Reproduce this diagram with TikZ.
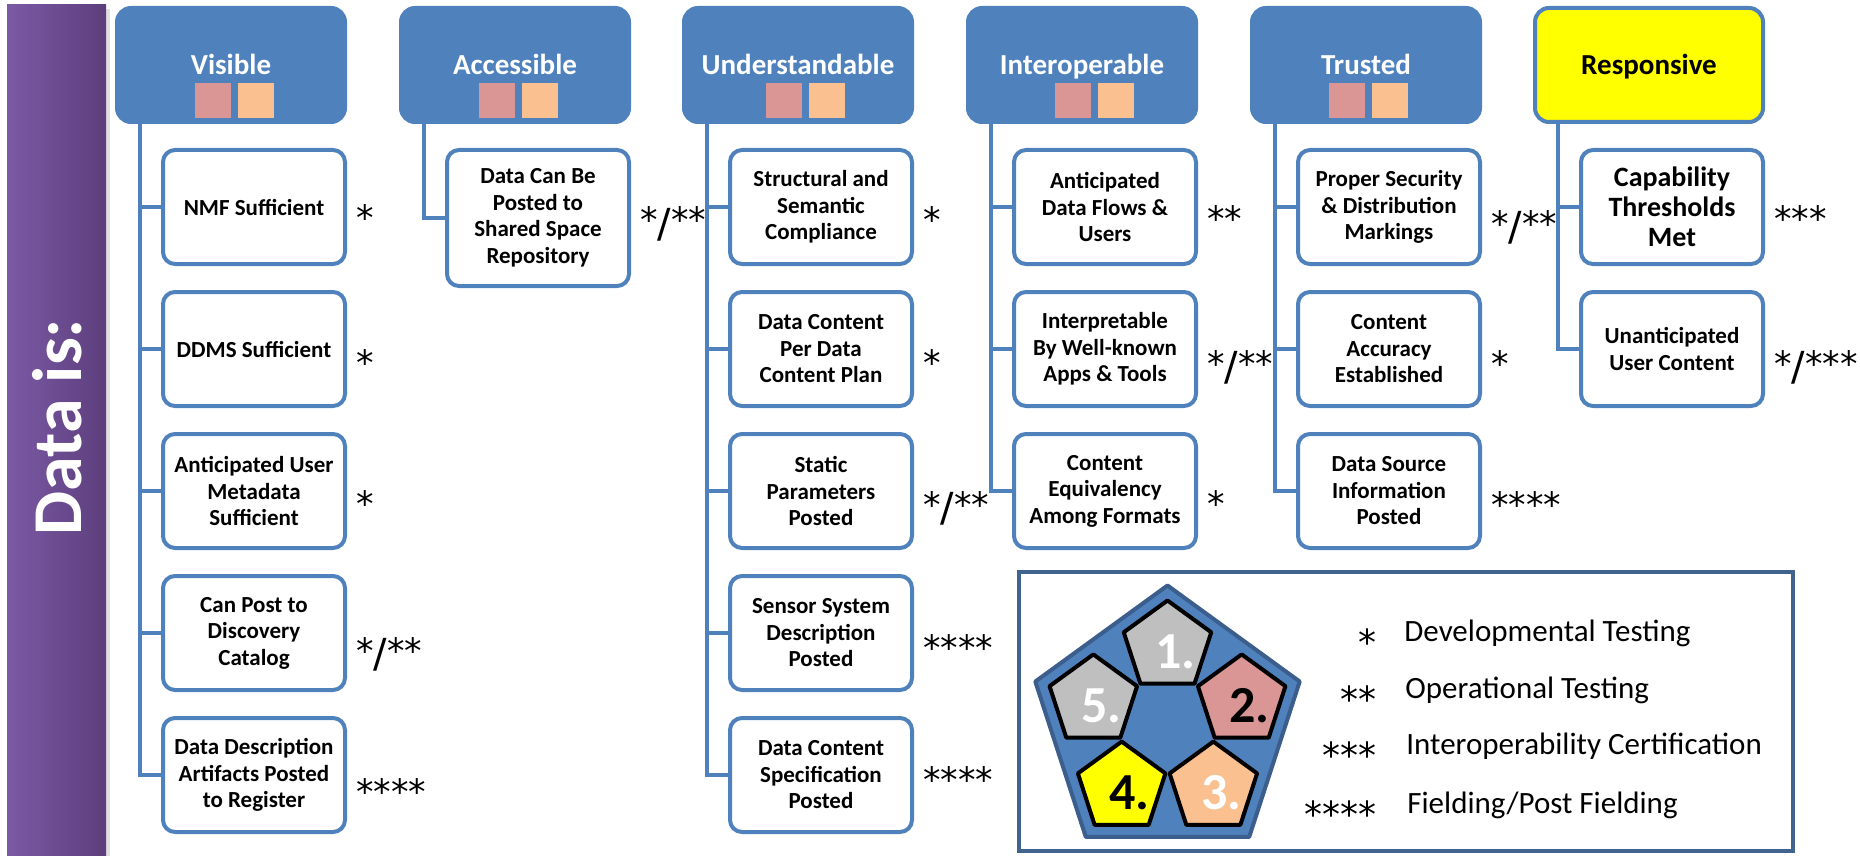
\documentclass[tikz,border=0pt]{standalone}
\usepackage{fontspec}
\setmainfont{Carlito}
\newfontfamily\starfont{DejaVu Sans}
\usetikzlibrary{calc}
\definecolor{hblue}{HTML}{4F81BD}
\definecolor{pinkc}{HTML}{D99694}
\definecolor{orangec}{HTML}{FAC090}
\definecolor{grayc}{HTML}{BFBFBF}
\definecolor{yellowc}{HTML}{FFFF00}
\definecolor{legborder}{HTML}{41648F}
\definecolor{pentborder}{HTML}{3B5E8C}
\definecolor{purpL}{HTML}{7B5AA5}
\definecolor{purpR}{HTML}{5D3E7C}
\newcommand{\mypent}[3]{\filldraw[#3] ($(#1)+(90:#2)$) -- ($(#1)+(162:#2)$) -- ($(#1)+(234:#2)$) -- ($(#1)+(306:#2)$) -- ($(#1)+(18:#2)$) -- cycle;}
\newcommand{\Sa}{{\starfont *}}
\newcommand{\Sl}{\raisebox{-2pt}{\starfont\fontsize{20}{22}\selectfont /}}
\newcommand{\Ls}[1]{{\starfont\fontsize{18}{20}\selectfont\raisebox{-7.3pt}{#1}}}
\begin{document}
\begin{tikzpicture}[x=0.5pt,y=-0.5pt,
  hdr/.style={fill=hblue, draw=hblue, line width=2pt, rounded corners=7pt, minimum width=114pt, minimum height=57pt, inner sep=0pt},
  item/.style={draw=hblue, fill=white, line width=2pt, rounded corners=6pt, minimum width=91pt, minimum height=57pt, inner sep=0pt, align=center, font=\bfseries\fontsize{11.5}{13.25}\selectfont},
  conn/.style={draw=hblue, line width=2pt},
  stars/.style={anchor=base west, font=\fontsize{17.5}{20}\selectfont, inner sep=0pt},
  title/.style={anchor=base, text=white, font=\bfseries\fontsize{14.5}{16}\selectfont, inner sep=0pt},
  legtext/.style={anchor=base west, font=\fontsize{15.5}{18}\selectfont, inner sep=0pt},
  legstar/.style={anchor=base east, font=\fontsize{15.5}{18}\selectfont, inner sep=0pt},
  num/.style={font=\bfseries\fontsize{26}{28}\selectfont, inner sep=0pt},
  sqp/.style={fill=pinkc},
  sqo/.style={fill=orangec}
]
\useasboundingbox (0,0) rectangle (1860,856);
\fill[white] (0,0) rectangle (1860,856);

% purple side bar
\fill[black!12] (106,9) rectangle (110,856);
\shade[left color=purpL, right color=purpR] (7,5) rectangle (106,856);
\node[rotate=90, text=white, font=\bfseries\fontsize{35}{38}\selectfont, inner sep=0pt] (datais) at (57,427) {Data is:};

% ---------- headers ----------
\node[hdr] (vis) at (231,65) {};
\node[hdr] (acc) at (515,65) {};
\node[hdr] (und) at (798,65) {};
\node[hdr] (int) at (1082,65) {};
\node[hdr] (tru) at (1366,65) {};
\node[hdr, fill=yellowc] (res) at (1649,65) {};

\node[title] (visT) at (231,75) {Visible};
\node[title] (accT) at (515,75) {Accessible};
\node[title] (undT) at (798,75) {Understandable};
\node[title] (intT) at (1082,75) {Interoperable};
\node[title] (truT) at (1366,75) {Trusted};
\node[title, text=black] (resT) at (1649,75) {Responsive};

% coloured squares in headers
\foreach \cx in {231,515,802,1091,1365}{
  \fill[sqp] (\cx-36,83) rectangle (\cx,118);
  \fill[sqo] (\cx+7,83) rectangle (\cx+43,118);
}

% ---------- Visible ----------
\node[item] (v1) at (254,207) {NMF Sufficient};
\node[item] (v2) at (254,349) {DDMS Sufficient};
\node[item] (v3) at (254,491) {Anticipated User\\Metadata\\Sufficient};
\node[item] (v4) at (254,633) {Can Post to\\Discovery\\Catalog};
\node[item] (v5) at (254,775) {Data Description\\Artifacts Posted\\to Register};
\foreach \c in {v1,v2,v3,v4,v5}{\draw[conn] ([xshift=12.5pt]vis.south west) |- (\c.west);}
\node[stars] (v1s) at (356,230) {\Sa};
\node[stars] (v2s) at (356,375) {\Sa};
\node[stars] (v3s) at (356,516) {\Sa};
\node[stars] (v4s) at (356,663) {\Sa\Sl\Sa\Sa};
\node[stars] (v5s) at (356,804) {\Sa\Sa\Sa\Sa};

% ---------- Accessible ----------
\node[item, minimum height=68pt] (a1) at (538,218) {Data Can Be\\Posted to\\Shared Space\\Repository};
\draw[conn] ([xshift=12.5pt]acc.south west) |- (a1.west);
\node[stars] (a1s) at (640,233) {\Sa\Sl\Sa\Sa};

% ---------- Understandable ----------
\node[item] (u1) at (821,207) {Structural and\\Semantic\\Compliance};
\node[item] (u2) at (821,349) {Data Content\\Per Data\\Content Plan};
\node[item] (u3) at (821,491) {Static\\Parameters\\Posted};
\node[item] (u4) at (821,633) {Sensor System\\Description\\Posted};
\node[item] (u5) at (821,775) {Data Content\\Specification\\Posted};
\foreach \c in {u1,u2,u3,u4,u5}{\draw[conn] ([xshift=12.5pt]und.south west) |- (\c.west);}
\node[stars] (u1s) at (923,233) {\Sa};
\node[stars] (u2s) at (923,375) {\Sa};
\node[stars] (u3s) at (923,517) {\Sa\Sl\Sa\Sa};
\node[stars] (u4s) at (923,660) {\Sa\Sa\Sa\Sa};
\node[stars] (u5s) at (923,792) {\Sa\Sa\Sa\Sa};

% ---------- Interoperable ----------
\node[item] (i1) at (1105,207) {Anticipated\\Data Flows \&\\Users};
\node[item] (i2) at (1105,349) {Interpretable\\By Well-known\\Apps \& Tools};
\node[item] (i3) at (1105,491) {Content\\Equivalency\\Among Formats};
\foreach \c in {i1,i2,i3}{\draw[conn] ([xshift=12.5pt]int.south west) |- (\c.west);}
\node[stars] (i1s) at (1207,232) {\Sa\Sa};
\node[stars] (i2s) at (1207,376) {\Sa\Sl\Sa\Sa};
\node[stars] (i3s) at (1207,516) {\Sa};

% ---------- Trusted ----------
\node[item] (t1) at (1389,207) {Proper Security\\\& Distribution\\Markings};
\node[item] (t2) at (1389,349) {Content\\Accuracy\\Established};
\node[item] (t3) at (1389,491) {Data Source\\Information\\Posted};
\foreach \c in {t1,t2,t3}{\draw[conn] ([xshift=12.5pt]tru.south west) |- (\c.west);}
\node[stars] (t1s) at (1491,236) {\Sa\Sl\Sa\Sa};
\node[stars] (t2s) at (1491,376) {\Sa};
\node[stars] (t3s) at (1491,517) {\Sa\Sa\Sa\Sa};

% ---------- Responsive ----------
\node[item, font=\bfseries\fontsize{14}{15}\selectfont] (r1) at (1672,207) {Capability\\Thresholds\\Met};
\node[item] (r2) at (1672,349) {Unanticipated\\User Content};
\foreach \c in {r1,r2}{\draw[conn] ([xshift=12.5pt]res.south west) |- (\c.west);}
\node[stars] (r1s) at (1774,232) {\Sa\Sa\Sa};
\node[stars] (r2s) at (1774,376) {\Sa\Sl\Sa\Sa\Sa};

% ---------- Legend ----------
\node[draw=legborder, line width=2pt, fill=white, minimum width=387pt, minimum height=139.5pt, inner sep=0pt] (legend) at (1406,711.5) {};

\coordinate (pc) at (1167.5,724.5);
\mypent{pc}{69.5pt}{fill=hblue, draw=pentborder, line width=2pt, line join=round}
\coordinate (p1) at ($(pc)+(90:39pt)$);
\coordinate (p2) at ($(pc)+(18:39pt)$);
\coordinate (p3) at ($(pc)+(-54:39pt)$);
\coordinate (p4) at ($(pc)+(-126:39pt)$);
\coordinate (p5) at ($(pc)+(162:39pt)$);
\mypent{p1}{23pt}{fill=grayc, draw=black, line width=2pt, line join=round}
\mypent{p2}{23pt}{fill=pinkc, draw=black, line width=2pt, line join=round}
\mypent{p3}{23pt}{fill=orangec, draw=black, line width=2pt, line join=round}
\mypent{p4}{23pt}{fill=yellowc, draw=black, line width=2pt, line join=round}
\mypent{p5}{23pt}{fill=grayc, draw=black, line width=2pt, line join=round}
\node[num, text=white] (n1) at ($(p1)+(4pt,-2.5pt)$) {1.};
\node[num, text=black] (n2) at ($(p2)+(4pt,-2.5pt)$) {2.};
\node[num, text=white] (n3) at ($(p3)+(4pt,-2.5pt)$) {3.};
\node[num, text=black] (n4) at ($(p4)+(4pt,-2.5pt)$) {4.};
\node[num, text=white] (n5) at ($(p5)+(4pt,-2.5pt)$) {5.};

\node[legstar] (l1s) at (1377,641) {\Ls{*}};
\node[legstar] (l2s) at (1377,698) {\Ls{**}};
\node[legstar] (l3s) at (1377,754) {\Ls{***}};
\node[legstar] (l4s) at (1377,813) {\Ls{****}};
\node[legtext] (l1) at (1404,641) {Developmental Testing};
\node[legtext] (l2) at (1405,698) {Operational Testing};
\node[legtext] (l3) at (1406,754) {Interoperability Certification};
\node[legtext] (l4) at (1407,813) {Fielding/Post Fielding};
\end{tikzpicture}
\end{document}
